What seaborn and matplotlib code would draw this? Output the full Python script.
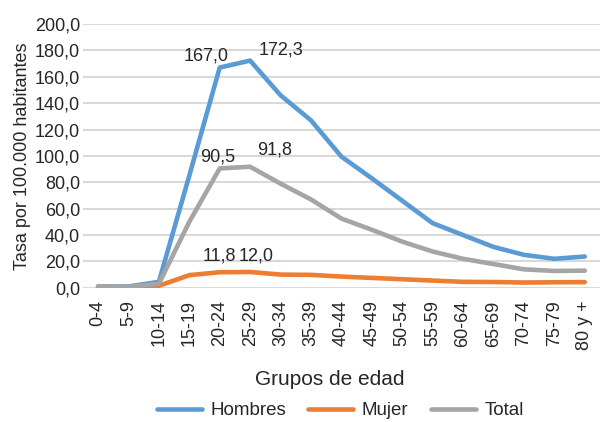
import numpy as np
import pandas as pd
import matplotlib
matplotlib.use("Agg")
import matplotlib.pyplot as plt
import seaborn as sns

grupos = ["0-4", "5-9", "10-14", "15-19", "20-24", "25-29", "30-34", "35-39",
          "40-44", "45-49", "50-54", "55-59", "60-64", "65-69", "70-74", "75-79", "80 y +"]
hombres = [1.0, 1.0, 4.5, 85.0, 167.0, 172.3, 146.0, 127.0, 99.5, 83.0, 66.0,
           49.0, 40.0, 31.0, 25.0, 22.0, 23.7]
mujer = [0.5, 0.3, 1.5, 9.6, 11.8, 12.0, 10.0, 9.8, 8.5, 7.5, 6.5,
         5.5, 4.5, 4.4, 4.0, 4.2, 4.3]
total = [1.0, 0.8, 3.0, 50.0, 90.5, 91.8, 79.0, 67.0, 52.5, 44.0, 35.0,
         27.5, 22.0, 18.0, 14.0, 12.8, 13.0]

series = {"Hombres": hombres, "Mujer": mujer, "Total": total}
colores = {"Hombres": "#5B9BD5", "Mujer": "#ED7D31", "Total": "#A5A5A5"}

df = pd.concat(
    [pd.DataFrame({"grupo": np.arange(len(grupos)), "tasa": v, "serie": k})
     for k, v in series.items()],
    ignore_index=True,
)

sns.set_theme(style="white")
plt.rcParams["font.family"] = ["Liberation Sans", "DejaVu Sans"]
texto = "#262626"

fig = plt.figure(figsize=(6.0, 4.22), dpi=100)
ax = fig.add_axes([0.138, 0.318, 0.862, 0.625])

sns.lineplot(data=df, x="grupo", y="tasa", hue="serie", palette=colores,
             linewidth=3.3, ax=ax, legend=False, solid_capstyle="round")

ax.set_ylim(0, 200)
ax.set_xlim(-0.5, len(grupos) - 0.5)
ax.set_yticks(np.arange(0, 201, 20))
ax.set_yticklabels([f"{v:.1f}".replace(".", ",") for v in np.arange(0, 201, 20)],
                   fontsize=13, color=texto)
ax.set_xticks(np.arange(len(grupos)))
ax.set_xticklabels(grupos, rotation=90, fontsize=13, color=texto)
ax.tick_params(axis="y", length=0, pad=2)
ax.tick_params(axis="x", length=0, pad=9)
ax.grid(axis="y", color="#D9D9D9", linewidth=1.5)
ax.set_axisbelow(True)
for s in ax.spines.values():
    s.set_visible(False)

ax.set_xlabel("Grupos de edad", fontsize=15, color=texto)
ax.xaxis.set_label_coords(0.478, -0.31)
ax.set_ylabel("Tasa por 100.000 habitantes", fontsize=13, color=texto, labelpad=3)


def fmt(v):
    return f"{v:.1f}".replace(".", ",")


# value labels on the peak age groups
etiquetas = [
    (hombres, 4, -0.44, 8.5),
    (hombres, 5, 1.0, 8.0),
    (total, 4, -0.05, 9.0),
    (total, 5, 0.8, 13.0),
    (mujer, 4, 0.0, 12.0),
    (mujer, 5, 0.2, 11.8),
]
for vals, i, dx, dy in etiquetas:
    ax.text(i + dx, vals[i] + dy, fmt(vals[i]), ha="center", va="center",
            fontsize=13, color=texto)

handles = [plt.Line2D([], [], color=colores[k], linewidth=3.3, solid_capstyle="round")
           for k in series]
fig.legend(handles, list(series.keys()), loc="center", ncol=3, frameon=False,
           handlelength=2.4, columnspacing=1.2, handletextpad=0.45,
           bbox_to_anchor=(0.567, 0.027), prop={"size": 13.5})

fig.savefig("out.png", dpi=100)
